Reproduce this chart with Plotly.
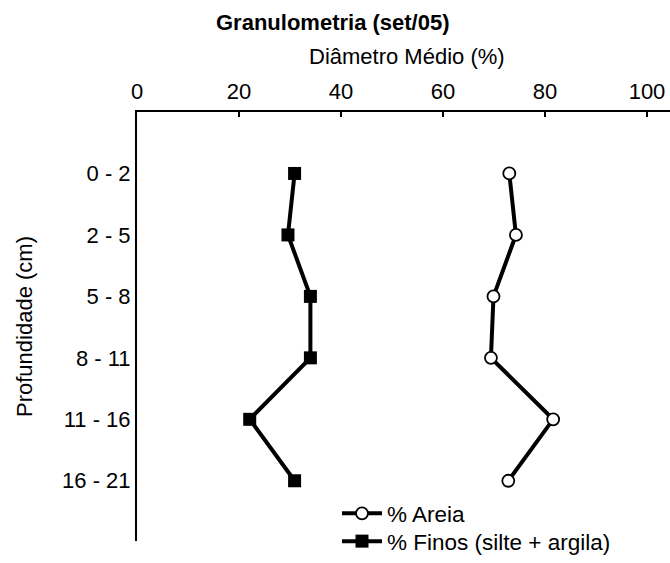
import plotly.graph_objects as go

# Depth intervals (cm) and grain-size fractions (%)
profundidade = ["0 - 2", "2 - 5", "5 - 8", "8 - 11", "11 - 16", "16 - 21"]
areia = [73.0, 74.3, 69.9, 69.4, 81.6, 72.8]
finos = [30.9, 29.6, 34.0, 34.0, 22.1, 30.9]
x_ticks = [0, 20, 40, 60, 80, 100]

FONT = "Liberation Sans, Arial, sans-serif"

# plot area in pixels: left edge 137, top 112, bottom 552, x=100 at ~647
PL, PT, PB = 137, 112, 552
PW, PH = 670 - PL, PB - PT


def px_x(x):
    return (x - PL) / PW


def px_y(y):
    return (PB - y) / PH


fig = go.Figure()
fig.add_trace(go.Scatter(
    x=areia, y=profundidade, mode="lines+markers", name="% Areia",
    line=dict(color="black", width=4),
    marker=dict(symbol="circle", size=12, color="white",
                line=dict(color="black", width=1.8)),
    legend="legend",
))
fig.add_trace(go.Scatter(
    x=finos, y=profundidade, mode="lines+markers", name="% Finos (silte + argila)",
    line=dict(color="black", width=4),
    marker=dict(symbol="square", size=13, color="black"),
    legend="legend2",
))

legend_common = dict(xanchor="left", yanchor="middle", bgcolor="rgba(0,0,0,0)",
                     font=dict(size=22.5), itemwidth=40)

fig.update_layout(
    width=670, height=563,
    margin=dict(l=PL, r=0, t=PT, b=563 - PB),
    paper_bgcolor="white", plot_bgcolor="white",
    font=dict(family=FONT, size=22, color="black"),
    showlegend=True,
    legend=dict(x=px_x(337), y=px_y(524), **legend_common),
    legend2=dict(x=px_x(337), y=px_y(553), **legend_common),
    xaxis=dict(
        side="top", range=[0, 100 * PW / 510], tickvals=x_ticks,
        showline=True, linecolor="black", linewidth=2,
        ticks="inside", ticklen=5, tickcolor="black", tickwidth=1.5,
        showgrid=False, zeroline=False, ticklabelstandoff=2,
    ),
    yaxis=dict(
        type="category", categoryorder="array", categoryarray=profundidade,
        range=[5.98, -1],
        showline=True, linecolor="black", linewidth=2,
        ticks="", showgrid=False, zeroline=False, ticklabelstandoff=0,
        title=dict(text="Profundidade (cm)", standoff=23,
                   font=dict(size=22)),
    ),
    annotations=[
        dict(text="<b>Granulometria (set/05)</b>", xref="paper", yref="paper",
             x=px_x(333), y=px_y(20.5),
             xanchor="center", yanchor="middle", showarrow=False,
             font=dict(size=22)),
        dict(text="Diâmetro Médio (%)", xref="paper", yref="paper",
             x=px_x(407), y=px_y(55.5),
             xanchor="center", yanchor="middle", showarrow=False,
             font=dict(size=22)),
    ],
)

fig.write_html("out.html")
